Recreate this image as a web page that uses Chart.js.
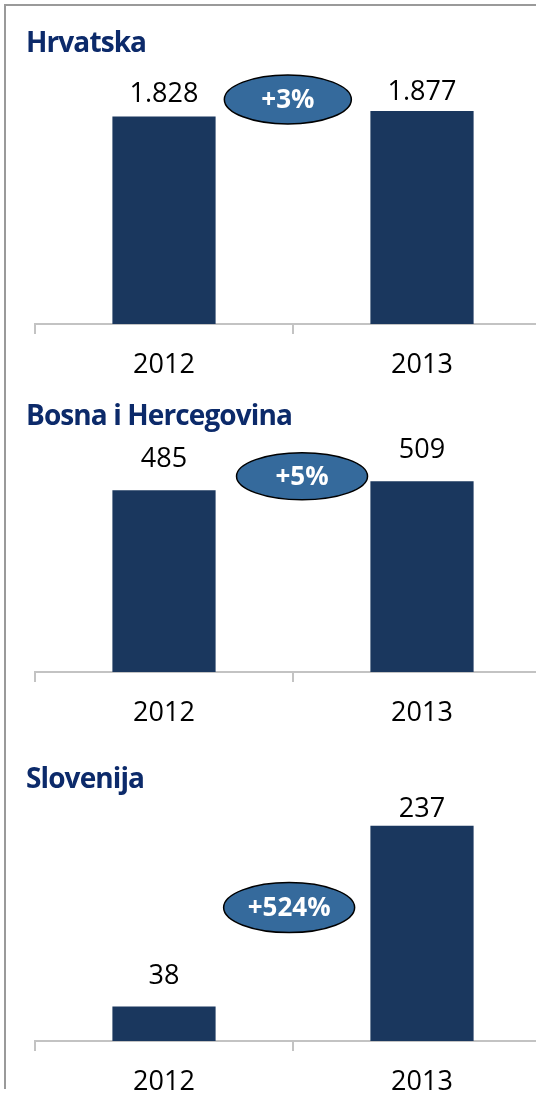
<!DOCTYPE html>
<html>
<head>
<meta charset="utf-8">
<script src="https://cdn.jsdelivr.net/npm/chart.js@4"></script>
<style>
  html, body { margin: 0; padding: 0; background: #fff; overflow: hidden; }
  body { width: 536px; height: 1093px; position: relative; font-family: 'Open Sans', sans-serif; }
  .frame { position: absolute; left: 4px; top: 4px; width: 540px; height: 1083px;
           border-top: 2px solid #9a9a9a; border-left: 2px solid #9a9a9a; }
  .panel-title { position: absolute; left: 26px; font-weight: 700; font-size: 28px;
                 color: #0c2a6a; letter-spacing: -0.9px; z-index: 2; line-height: 1; }
  canvas { position: absolute; left: 0; }
</style>
</head>
<body>
<div class="frame"></div>

<div class="panel-title" id="t0" style="top:27px"></div>
<div class="panel-title" id="t1" style="top:400px"></div>
<div class="panel-title" id="t2" style="top:763px"></div>

<canvas id="c0" width="560" height="344" style="top:40px"></canvas>
<canvas id="c1" width="560" height="307" style="top:425px"></canvas>
<canvas id="c2" width="560" height="321" style="top:780px"></canvas>

<script>
"use strict";

// ── Data ──────────────────────────────────────────────────────────
const YEARS     = ["2012", "2013"];
const COUNTRIES = ["Hrvatska", "Bosna i Hercegovina", "Slovenija"];
const HRV       = [1828, 1877];
const BIH       = [485, 509];
const SLO       = [38, 237];
const CHANGES   = ["+3%", "+5%", "+524%"];

// ── Style ─────────────────────────────────────────────────────────
const BAR     = "#1a375e";
const BADGE   = "#356a9c";
const AXIS    = "#c3c3c3";
const FONT    = "'Open Sans', sans-serif";

const $ = id => document.getElementById(id);
const fmt = n => Number(n).toLocaleString("de-DE");

// value labels + change badge
const labelsPlugin = {
  id: "labels",
  afterDatasetsDraw(chart, args, opts) {
    const ctx = chart.ctx;
    const meta = chart.getDatasetMeta(0);
    ctx.save();
    ctx.font = `27px ${FONT}`;
    ctx.fillStyle = "#000";
    ctx.textAlign = "center";
    ctx.textBaseline = "middle";
    meta.data.forEach((bar, i) => {
      ctx.fillText(fmt(chart.data.datasets[0].data[i]), bar.x, bar.y - opts.gaps[i]);
    });

    // badge
    const x = chart.scales.x.getPixelForValue(opts.badgeX);
    const y = chart.scales.y.getPixelForValue(opts.badgeY);
    ctx.beginPath();
    ctx.ellipse(x, y, opts.w / 2, opts.h / 2, 0, 0, Math.PI * 2);
    ctx.fillStyle = BADGE;
    ctx.fill();
    ctx.lineWidth = 1.5;
    ctx.strokeStyle = "#000";
    ctx.stroke();
    ctx.fillStyle = "#fff";
    ctx.font = `bold 26px ${FONT}`;
    ctx.fillText(opts.text, x, y + 1);
    ctx.restore();
  }
};

function makeChart(id, values, yMax, padTop, badge) {
  return new Chart($(id), {
    type: "bar",
    data: {
      labels: YEARS,
      datasets: [{ data: values, backgroundColor: BAR, barPercentage: 0.4, categoryPercentage: 1 }]
    },
    options: {
      responsive: false,
      animation: false,
      layout: { padding: { left: 35, right: 9, top: padTop, bottom: 0 } },
      plugins: { legend: { display: false }, tooltip: { enabled: false }, labels: badge },
      scales: {
        y: { display: false, min: 0, max: yMax },
        x: {
          afterFit: s => { s.height = 60; },
          border: { display: true, color: AXIS, width: 2 },
          grid: { display: true, drawOnChartArea: false, drawTicks: true, tickLength: 10, color: AXIS, lineWidth: 2 },
          ticks: { color: "#000", font: { family: FONT, size: 27 }, padding: 15 }
        }
      }
    },
    plugins: [labelsPlugin]
  });
}

COUNTRIES.forEach((c, i) => { $("t" + i).textContent = c; });

makeChart("c0", HRV, 2000, 57, { gaps: [22, 19], badgeX: 0.48,  badgeY: 1978, w: 127, h: 49, text: CHANGES[0] });
makeChart("c1", BIH, 600,  22, { gaps: [31, 31], badgeX: 0.535, badgeY: 522,  w: 131, h: 47, text: CHANGES[1] });
makeChart("c2", SLO, 250,  34, { gaps: [30, 16], badgeX: 0.485, badgeY: 147,  w: 131, h: 50, text: CHANGES[2] });
</script>
</body>
</html>
